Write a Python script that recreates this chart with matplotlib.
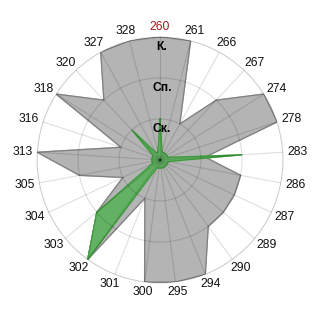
import numpy as np
import matplotlib.pyplot as plt

# categories around the radar, clockwise from the top
categories = ['260', '261', '266', '267', '274', '278', '283', '286', '287',
              '289', '290', '294', '295', '300', '301', '302', '303', '304',
              '305', '313', '316', '318', '320', '327', '328']
levels = [1, 2, 3]
level_labels = ['Ск.', 'Сп.', 'К.']

gray_values = [3, 3, 1, 2, 3, 3, 1.1, 2, 2, 2, 2, 3, 3, 3, 1, 3, 2, 1,
               2, 3, 1, 3, 2, 3, 3]
green_values = [1, 0.2, 0.2, 0.2, 0.2, 0.2, 2, 0.2, 0.2, 0.2, 0.2, 0.2, 0.2,
                0.2, 0.2, 3, 2, 0.2, 0.2, 0.2, 0.2, 0.2, 1, 0.2, 0.2]

plt.rcParams['font.family'] = ['Liberation Sans', 'DejaVu Sans']

n = len(categories)
theta = np.arange(n) * 2 * np.pi / n


def closed(vals):
    return np.append(theta, theta[0]), np.append(vals, vals[0])


fig = plt.figure(figsize=(3.2, 3.2), dpi=100)
ax = fig.add_axes([0.1156, 0.1156, 0.769, 0.769], projection='polar')
ax.set_theta_zero_location('N')
ax.set_theta_direction(-1)
ax.set_ylim(0, 3)

# filled series
t, v = closed(gray_values)
ax.fill(t, v, color='#b4b4b4', zorder=1)
ax.plot(t, v, color='#808080', lw=0.9, zorder=1.2)
t, v = closed(green_values)
ax.fill(t, v, color='#63b163', zorder=1.3)
ax.plot(t, v, color='#3c9a3c', lw=0.8, zorder=1.4)

# grid above the fills, semi-transparent
ax.set_xticks(theta)
ax.set_xticklabels([])
ax.set_yticks(levels)
ax.set_yticklabels([])
ax.grid(True, color='black', alpha=0.13, lw=0.8, zorder=1.5)
ax.spines['polar'].set_color((0, 0, 0, 0.13))
ax.spines['polar'].set_linewidth(0.8)
ax.tick_params(length=0)

# category labels
for i, lab in enumerate(categories):
    s, c = np.sin(theta[i]), np.cos(theta[i])
    ax.annotate(lab, xy=(theta[i], 3.12), xytext=(s * 10, c * 5),
                textcoords='offset pixels', ha='center', va='center',
                fontsize=8.7, color='#a01c1c' if i == 0 else '#111111',
                annotation_clip=False)

# level labels
for lv, lab in zip(levels, level_labels):
    ax.annotate(lab, xy=(0, lv), xytext=(2, -10), textcoords='offset pixels',
                ha='center', va='center', fontsize=8.7, fontweight='bold',
                color='black', annotation_clip=False, zorder=5)

fig.savefig('out.png', dpi=100)
